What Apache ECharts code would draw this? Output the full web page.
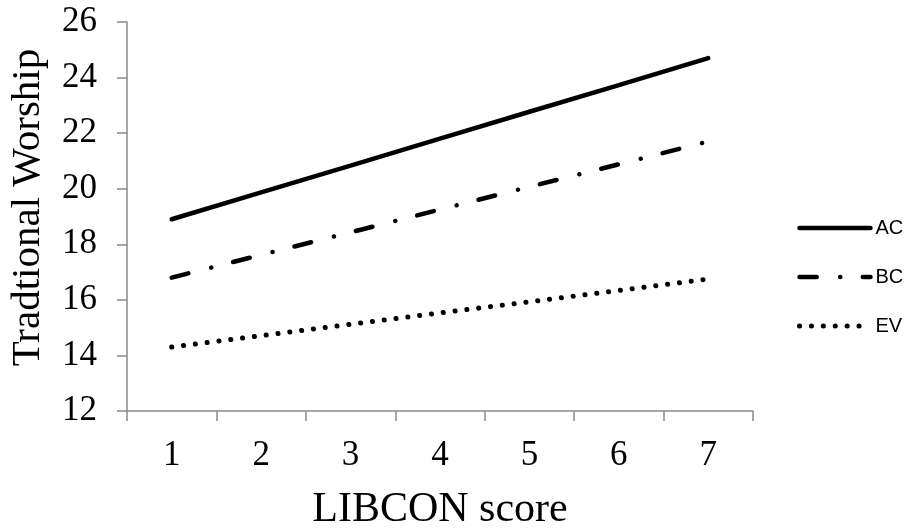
<!DOCTYPE html>
<html>
<head>
<meta charset="utf-8">
<script src="https://cdn.jsdelivr.net/npm/echarts@6/dist/echarts.min.js"></script>
<style>html,body{margin:0;padding:0;background:#fff;}#c{width:905px;height:531px;}</style>
</head>
<body>
<div id="c"></div>
<script>
const categories = ['1', '2', '3', '4', '5', '6', '7'];
const seriesNames = ['AC', 'BC', 'EV'];
const acValues = [18.9, 19.87, 20.83, 21.8, 22.77, 23.73, 24.7];
const bcValues = [16.8, 17.62, 18.43, 19.25, 20.07, 20.88, 21.7];
const evValues = [14.3, 14.71, 15.12, 15.53, 15.93, 16.34, 16.75];
const yMin = 12, yMax = 26, yStep = 2;
const xTitle = 'LIBCON score';
const yTitle = 'Tradtional Worship';

const chart = echarts.init(document.getElementById('c'), null, {renderer: 'canvas'});
const serif = 'Liberation Serif';
const axisGray = '#8a8a8a';
const dashTypes = ['solid', [17.2, 23.5, 0.1, 22.5], [0.1, 11.8]];
const widths = [4.5, 4.5, 5];
function lineSeries(i, data) {
  return {
    name: seriesNames[i], type: 'line', data: data,
    symbol: 'none', showSymbol: false, smooth: false,
    lineStyle: {color: '#000', width: widths[i], type: dashTypes[i], cap: 'round'},
    itemStyle: {color: '#000'},
    emphasis: {disabled: true},
    animation: false
  };
}
chart.setOption({
  animation: false,
  backgroundColor: '#fff',
  grid: {left: 127, top: 22, right: 152, bottom: 120, containLabel: false, outerBoundsMode: 'none'},
  legend: {
    orient: 'vertical', left: 792, top: 213, itemWidth: 71, itemHeight: 6,
    itemGap: 29,
    data: seriesNames.map((n, i) => ({
      name: n,
      lineStyle: {width: widths[i], type: dashTypes[i], cap: 'round', color: '#000'},
      itemStyle: {opacity: 0}
    })),
    itemStyle: {opacity: 0},
    textStyle: {fontFamily: 'Liberation Sans', fontSize: 20, color: '#000'}
  },
  xAxis: {
    type: 'category', data: categories, boundaryGap: true,
    name: xTitle, nameLocation: 'middle', nameGap: 78,
    nameTextStyle: {fontFamily: serif, fontSize: 42, color: '#000'},
    axisLine: {lineStyle: {color: axisGray, width: 1.5}},
    axisTick: {show: true, length: 10, inside: false, lineStyle: {color: axisGray, width: 1.5}},
    axisLabel: {fontFamily: serif, fontSize: 35, color: '#000', margin: 27},
    splitLine: {show: false}
  },
  yAxis: {
    type: 'value', min: yMin, max: yMax, interval: yStep,
    name: yTitle, nameLocation: 'middle', nameGap: 78, nameRotate: 90,
    nameTextStyle: {fontFamily: serif, fontSize: 41, color: '#000', padding: [0, 0, 0, 18]},
    axisLine: {show: true, lineStyle: {color: axisGray, width: 1.5}},
    axisTick: {show: true, length: 10, lineStyle: {color: axisGray, width: 1.5}},
    axisLabel: {fontFamily: serif, fontSize: 35, color: '#000', margin: 30},
    splitLine: {show: false}
  },
  series: [
    lineSeries(0, acValues),
    lineSeries(1, bcValues),
    lineSeries(2, evValues)
  ]
});
</script>
</body>
</html>
